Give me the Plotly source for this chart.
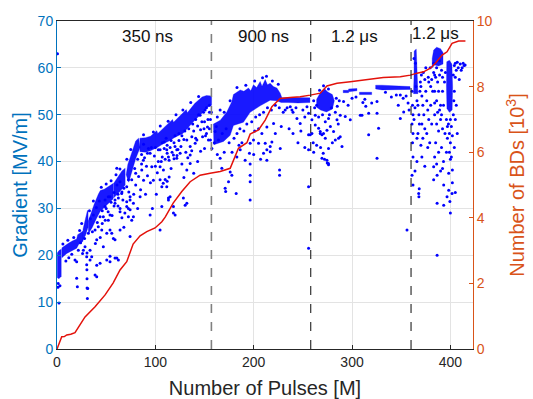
import plotly.graph_objects as go

# ---------------- data ----------------
# cumulative number of breakdowns (x: pulses [M], y: BDs [10^3])
bd_pulses = [0, 1.3, 4.8, 7.5, 9.9, 14, 18.3, 28.5, 38.7, 48.9, 57, 64.1, 70.9, 77.4, 84.5, 91.3,
             99.7, 106.6, 110, 118.1, 126.9, 135.4, 145.5, 155.7, 165.9, 176.1, 184.5, 193.1,
             196.4, 204.9, 211.7, 218.5, 226.9, 237.1, 247.3, 257.5, 267.7, 274.5, 284.7,
             298.2, 315.2, 331.8, 349.1, 359.3, 366.1, 372.8, 379.6, 384.7, 391.6, 396.6,
             401.7, 408.4, 415.3]
bd_count = [0, 0.12, 0.375, 0.38, 0.43, 0.45, 0.5, 0.98, 1.29, 1.65, 2.01, 2.41, 2.66, 3.2, 3.45,
            3.58, 3.69, 3.88, 4.02, 4.45, 4.80, 5.10, 5.30, 5.36, 5.41, 5.51, 6.12, 6.29,
            6.55, 6.68, 6.98, 7.39, 7.64, 7.67, 7.69, 7.74, 7.80, 8.02, 8.10,
            8.15, 8.22, 8.28, 8.30, 8.35, 8.41, 8.45, 8.56, 8.71, 8.96, 9.06,
            9.32, 9.39, 9.39]

# dense gradient bands (outline vertices, x: pulses [M], y: gradient [MV/m])
band_start = [(0.3, 15.2), (0.3, 20.5), (2, 21.0), (4.3, 21.3), (4.3, 15.5), (2, 15.0)]
band_350_a = [(5, 21.6), (8, 22.1), (12, 22.6), (16, 23.1), (20, 23.5), (21, 24.4), (24, 24.8),
              (26.5, 25.2), (26.5, 23.0), (22, 22.3), (20, 21.5), (15, 21.0), (10, 20.4), (5, 19.5)]
band_350_b = [(26.5, 25.6), (29, 27.8), (31, 29.6), (31.6, 29.3), (31.6, 26.0), (29, 24.3),
              (26.5, 23.3)]
band_350_c = [(31.8, 27.3), (35, 29.3), (38, 31.0), (42, 33.0), (44, 33.8), (48, 34.1),
              (52, 34.6), (57, 35.3), (57, 32.0), (52, 31.0), (48, 30.2), (44, 29.4), (40, 27.8),
              (36, 26.0), (32, 24.6)]
band_350_d = [(57.5, 35.3), (62, 36.8), (66, 38.0), (69.3, 38.6), (69.3, 35.0), (64, 33.6),
              (57.5, 32.2)]
band_350_e = [(70.3, 37.2), (72, 39.4), (76, 41.9), (80, 44.4), (83, 45.0), (84.5, 43.0),
              (80, 40.6), (76, 38.0), (73, 35.6)]
band_350_f = [(84.3, 45.0), (90, 45.1), (95, 45.4), (101.5, 46.6), (102.5, 46.0), (110, 47.6),
              (117.5, 49.0), (118.5, 48.4), (125, 49.8), (131.5, 51.1), (132.5, 50.4),
              (140, 52.4), (147.5, 53.8), (152, 54.1), (157.2, 54.0), (157.2, 52.0), (152, 51.5),
              (147, 50.2), (140, 48.8), (134, 47.4), (128, 46.0), (120, 45.2), (114, 44.4),
              (108, 43.8), (102, 43.0), (95, 42.3), (90, 42.0), (84.3, 42.1)]
band_900 = [(159, 48.0), (166, 48.8), (172.7, 50.6), (177.8, 52.8), (179.4, 54.3), (186.3, 55.3),
            (190, 55.0), (194.7, 55.7), (197, 55.1), (199.8, 56.4), (203, 55.8), (206.6, 57.1),
            (208.5, 56.1), (211.7, 57.5), (214, 56.4), (216.8, 56.7), (220, 56.0),
            (223.6, 55.7), (227, 54.6), (228.7, 53.6), (240, 53.7), (250, 53.7),
            (257.2, 53.6), (257.2, 52.6), (245, 52.5), (235, 52.6), (228, 52.6), (223, 53.0),
            (216.8, 53.1), (206.6, 51.9), (196.4, 50.5), (189.6, 48.4), (179.4, 47.7),
            (176.1, 45.6), (169.3, 44.3), (159.5, 43.6)]
band_12_a = [(264, 53.3), (268, 54.8), (272, 55.6), (275, 54.9), (280, 54.3), (282, 53.0),
             (280, 51.2), (274, 50.6), (268, 51.0), (264, 51.6)]
band_12_b = [(291, 54.7), (291, 55.2), (296.5, 55.2), (296.5, 55.5), (305, 55.6), (305, 55.1),
             (296.5, 54.9), (296.5, 54.7)]
band_12_c = [(307.5, 54.3), (307.5, 54.8), (320, 54.8), (320, 54.3)]
band_12_d = [(324, 55.5), (324, 56.3), (330.5, 56.3), (359, 56.0), (359, 55.4), (330.5, 55.3)]
band_12_e = [(363, 58), (363.2, 63.6), (365.3, 64.0), (366, 59.5), (367, 56.5), (367, 54.5),
             (362.5, 54.5), (362.5, 57)]
band_12_f = [(381.5, 62), (383, 63.8), (386, 64.4), (390, 64.1), (392.5, 63.3), (392.5, 60.8),
             (388, 60.4), (384, 60.6), (381.5, 60)]
band_12_g = [(396.3, 61.3), (399, 61.6), (401.5, 60.8), (402.3, 56), (401.8, 51), (399, 50.5),
             (396.5, 51.3), (396, 56)]

# individual gradient points
dots_350ns = [
    (0.5, 63.0), (2, 9.8), (1.3, 14), (1, 13.2), (3, 13.5),
    (18.3, 19), (20, 18.6), (20, 15.1), (20.7, 13.3), (21.7, 21.1), (25.1, 26.8), (26.8, 21.1),
    (28.5, 21.8), (30.2, 19.7), (30.5, 20.5), (30.2, 18), (30.4, 16.9), (30.5, 15), (30.6, 13),
    (30.9, 10.8), (31.2, 12.9), (31.9, 24.7), (33.6, 21.1), (33.6, 19), (35.3, 19.7),
    (38.7, 25.4), (38.7, 15.8), (40.4, 23.3), (40.4, 17.9), (40.4, 15.4), (42, 26.1),
    (43.8, 28.2), (43.8, 18.3), (45.5, 25.4), (47.1, 28.2), (47.1, 21.8), (48.9, 30.4),
    (48.9, 31.8), (50.6, 24.7), (50.6, 19), (52.2, 27.5), (52.2, 32.5), (53.9, 28.6),
    (53.9, 25.4), (53.9, 18.6), (53.9, 19.8), (55.7, 24.7), (57.3, 23.6), (59, 31.8),
    (59, 31.1), (59, 23.3), (59, 19.4), (60.8, 19.4), (62.4, 32.2), (62.4, 19), (64.1, 29.3),
    (64.1, 30), (64.1, 25.4), (65.8, 33.2), (70.9, 31.4), (70.9, 30.4), (70.9, 34.6),
    (72.6, 30), (72.6, 28.2), (74.3, 31.8), (74.3, 24), (76, 27.5), (76, 36.1), (77.7, 31.1),
    (84.5, 32.5), (94.7, 28.6), (104.8, 25.4), (106.6, 30.4), (113.3, 32.2), (118.4, 30.4),
    (120.1, 28.6), (128.5, 32.2), (130.3, 30.7),
    (53.9, 32.5), (60.8, 38.6), (64.1, 35.7), (72.6, 36.1), (74.3, 32.5), (74.3, 29.7),
    (77.7, 28.2), (85, 34), (87.8, 40.3), (86.2, 38.2), (94.7, 41.8), (96.4, 38.9),
    (104.8, 42.5), (104.8, 38.9), (104.8, 36.1), (108.2, 38.2), (106.6, 34.6), (111.6, 42.5),
    (113.3, 41), (118.4, 41.4), (121.8, 42.5), (121.8, 40.7), (125.2, 41.8), (115, 32.5),
    (111.6, 34.6), (113.3, 31.8), (118.4, 29), (132, 31.1), (132, 38.2), (135.4, 39.6),
    (135.4, 41.4), (142.2, 44.6), (140.5, 43.9), (147.3, 48.5), (150.6, 51), (145.5, 49.9),
    (132, 44.6), (137.1, 45.3), (135.4, 43.2),
    (107, 41), (109, 42.8), (110, 40.5), (112, 41.8), (114, 40.3), (115, 43), (117, 42),
    (119, 40.6), (120, 43.2), (122, 41.3), (123, 42.6), (108, 35.4), (110, 36.2), (112, 35.8),
    (114, 36.7),
    (36, 25), (41, 27), (46, 29.5), (50, 30), (55, 31.3), (58, 30.5), (62, 33), (66, 33.5),
    (68, 34.3), (79, 38.5), (82, 40.5), (86, 41.5), (88, 43.7), (92, 41.8), (96, 43), (100, 43),
    (103, 42.5), (107, 44), (111, 45), (116, 44.5), (120, 45.5), (124, 46), (127, 45.5),
    (130, 46.5), (134, 47), (138, 48), (141, 49), (144, 50), (149, 50.5), (152, 51.5),
    (155, 52), (156, 49), (155, 47), (154, 44.6), (152, 46),
    (66, 28), (68, 26), (80, 35), (82, 30), (88, 36), (90, 33), (92, 37), (98, 36), (100, 39),
    (101, 33), (97, 30), (103, 40),
    (149.5, 47), (151, 45.5), (153.5, 49), (155, 50.5), (156, 44.6),
    (6, 22.4), (11, 23.2), (17, 23.8), (23, 25.3), (33, 29.5), (37, 31.6), (45, 34.5),
    (50, 35.2), (55, 35.9), (60, 37.2), (64, 38.4), (71, 40.5), (75, 42.6), (88, 45.7),
    (98, 46.3), (105, 47.6), (113, 48.6), (121, 50), (128, 51), (136, 52.6), (144, 53.9),
    (62, 30.5), (67, 31.8), (69, 29), (73, 33.5), (78, 33), (80, 37.5), (83, 36.8), (86, 39.5),
    (89, 40.8), (91, 39), (93, 42.8), (95, 35.5), (99, 41.2), (102, 37.6), (106, 40),
    (109, 44.2), (112, 43.5), (116, 38.5), (119, 44), (124, 44.5), (126, 43.2), (129, 44.7),
    (131, 42), (133, 40.8), (137, 42.3), (139, 46.5), (141, 45), (143, 47.6), (146, 46.8),
    (148, 45.3), (150, 48.5), (153, 47.4), (157, 50.5), (127, 39.5), (129, 36.6), (139, 37.5),
    (143, 40), (146, 42.2), (150, 42.8), (40, 30.2), (43, 31.6), (46, 26.8), (49, 27.5),
    (52, 29.3), (56, 28.5), (58, 33.4), (61, 35), (34, 27.8), (37, 28.6), (39, 22.5),
    (44, 23.8), (15, 20.2), (12, 19.5), (9, 18.8), (24, 22.7), (26, 20.4), (28, 23.6)]
dots_900ns = [
    (157.5, 42.8), (160.8, 46.4), (164.2, 44.6), (167.6, 38.6), (171, 34.3), (171.5, 33.6),
    (174.4, 35.7), (176.1, 37.8), (177.8, 37.1), (182.2, 33.2), (191.3, 40.3), (195.7, 41.8),
    (196.4, 37.1), (196.4, 31.8), (196.4, 35.7), (196.4, 43.9), (196.4, 39.5), (199.8, 44.6),
    (204.9, 43.9), (208.3, 46), (211.7, 43.9), (213.4, 42.5), (216.8, 42.1), (218.5, 44.2),
    (213.4, 47.4), (220.2, 48.1), (226.3, 38.2), (226.3, 37.1), (237.2, 51.7), (238.9, 51),
    (244, 49.2), (247.3, 48.1), (254.2, 51.7), (257.5, 45.7), (255.8, 34.6), (255.8, 21.5),
    (255.8, 50.3), (255.8, 45.7), (255.8, 42.5), (165.9, 51), (232, 51), (165.9, 40.7),
    (182.9, 41), (186.3, 42.5), (213.4, 40.3), (210, 41.8), (216.8, 43.2), (227, 42.8),
    (162, 47.5), (168, 46), (172, 47), (175, 44), (180, 45), (183, 46), (186, 47), (190, 46.5),
    (193, 48), (198, 48.5), (202, 49.5), (206, 50), (210, 50.5), (214, 51.5), (218, 51),
    (222, 52), (226, 51.5), (230, 50.5), (234, 51.5), (240, 50.5), (243, 51.5), (250, 51),
    (252, 49.5), (248, 46.5), (236, 47), (228, 47.5), (222, 46), (205, 47), (201, 46.5),
    (188, 44), (185, 43.5), (178, 42), (170, 42), (163, 41.5), (160, 44), (200, 41.5),
    (207, 40.5), (240, 46), (245, 44), (252, 43),
    (163, 49.5), (170, 50.5), (176, 53), (183, 55.8), (192, 56.3), (201, 57.2), (209, 57.9),
    (213, 58.2), (219, 57.2), (225, 56.5)]
dots_12us_a = [
    (259.2, 48.9), (259.2, 46), (262.6, 49.9), (262.6, 47.8), (266, 47.1), (267.7, 46.4),
    (269.4, 45.7), (271, 46), (272.8, 45), (274.5, 46.7), (272.8, 48.5), (276.1, 49.2),
    (281.2, 46.4), (283, 44.6), (286.3, 45), (289.8, 43.2), (276.1, 42.8), (269.4, 40.7),
    (274.5, 40.3), (276.1, 39.3), (270.7, 41.8), (272, 40.5), (274.8, 39.7), (276, 39.6),
    (267.7, 46), (288, 45.3), (284.7, 48.9), (288, 49.9), (293.1, 49.6), (298.2, 48.9),
    (291.4, 52.8), (310.1, 49.9), (316.9, 50.3), (325.4, 50.3), (325.4, 52.8), (316.9, 45.7),
    (327, 47.1), (325.4, 40.7), (349.1, 49.2), (352.5, 50.6), (355.9, 25.4), (349.1, 54.2),
    (308.4, 49.9), (264, 52), (279, 51.5), (285, 51.8), (287, 53), (300, 53.5),
    (313, 53.3), (340, 53.8), (345, 54.2), (355, 54), (357, 52.5), (260.5, 44), (261, 42),
    (264, 43.5), (268, 43), (278, 47.5), (280, 44), (286, 48), (296, 52), (304, 53.8),
    (320, 52.5), (334, 54.8), (347, 52), (352, 53.5), (358, 51),
    (261, 53), (262, 51.5), (266, 49.5), (270, 50), (277, 50), (283, 50.5), (284, 53.5),
    (271, 56.2), (267, 55.2), (276, 55.5), (311, 52.6), (314, 51.8)]
dots_12us_b = [
    (361, 55), (361.5, 52), (362, 50), (361, 48), (362, 46), (361.5, 44), (362, 41), (361, 37.1),
    (362, 35), (367.8, 33.2), (368, 32.5), (368.3, 34.2), (367, 52), (368, 50), (368.5, 48),
    (367, 46), (369, 55), (369.5, 57), (366, 45), (364, 51.5), (363, 49),
    (370, 56), (371, 54), (372, 52), (373, 50), (371, 48), (374, 47), (372, 45), (375, 55),
    (376, 53), (377, 51), (378, 49), (376, 46), (379, 44), (380, 56), (380, 52), (381, 48),
    (374, 57.5), (378, 57), (370, 43.5), (377, 43),
    (383, 59), (385, 58), (387, 57), (389, 58.5), (391, 59.5), (384, 55), (386, 53), (388, 55),
    (390, 52), (392, 55), (384, 50), (386, 48), (388, 46.5), (390, 49), (392, 47), (383, 38.9),
    (383, 36.1), (386.5, 37.1), (393.2, 35), (386.5, 31.1), (393.2, 30.7), (386.5, 20),
    (388, 42), (385, 44), (391, 43), (393, 40), (390, 38),
    (398, 48), (399, 46), (400, 44), (399, 42), (400, 40.5), (398.3, 37.5), (398.3, 33.9),
    (401.7, 33.2), (400, 29), (396.6, 32.5), (405, 33.4), (402, 38.2), (397, 45), (401, 47.5),
    (404, 60.5), (406, 59.5), (408, 60), (410, 60.8), (412, 60), (414, 60.5), (405, 58),
    (409, 57.5), (404, 55), (406, 52), (405, 49), (407, 46), (404, 43),
    (363, 62), (364.5, 61), (365, 56), (366, 53), (370.5, 58.5), (372.5, 59), (375, 60),
    (377.5, 58), (379.5, 60), (381, 57.5), (382, 55), (384, 52.5), (387, 50.5), (389, 51),
    (391, 50), (393, 52), (394, 57), (395, 59), (392, 58), (389, 61.5), (386, 60),
    (384, 58.5), (383, 61), (396, 49), (397, 47.5), (400, 49), (402, 45.5), (403, 50),
    (403.5, 53), (403, 58.5), (405, 61), (407, 61.2), (411, 59.5), (413, 61), (415, 60.6),
    (394.5, 46), (396, 42), (401, 41), (402, 35.5), (399.5, 31.5), (384, 41), (386, 39.5),
    (392, 38.5), (371, 41), (374, 39), (366, 40), (364, 38)]

# pulse-length phases
phase_edges = [157, 258, 360]
phase_labels = ["350 ns", "900 ns", "1.2 μs", "1.2 μs"]
phase_label_x = [91.6, 209.7, 302, 384.4]
phase_label_y = [66.6, 66.6, 66.6, 67.3]

# ---------------- figure ----------------
BLUE_AX = "#0072BD"
ORANGE = "#D95319"
DOT = "#0000FF"
GRID = "#e3e3e3"
DARK = "#262626"
FONT = "Liberation Sans, Arial, sans-serif"

fig = go.Figure()

bands = [band_start, band_350_a, band_350_b, band_350_c, band_350_d, band_350_e, band_350_f,
         band_900, band_12_a, band_12_b, band_12_c, band_12_d, band_12_e, band_12_f, band_12_g]
for b in bands:
    fig.add_trace(go.Scatter(
        x=[p[0] for p in b] + [b[0][0]], y=[p[1] for p in b] + [b[0][1]],
        mode="lines", fill="toself", fillcolor="rgba(0,0,255,0.9)",
        line=dict(color="rgba(0,0,255,0.6)", width=0.5), hoverinfo="skip", showlegend=False))

all_dots = dots_350ns + dots_900ns + dots_12us_a + dots_12us_b
fig.add_trace(go.Scatter(
    x=[p[0] for p in all_dots], y=[p[1] for p in all_dots], mode="markers",
    marker=dict(color=DOT, size=3), showlegend=False))

fig.add_trace(go.Scatter(
    x=bd_pulses, y=bd_count, mode="lines", yaxis="y2",
    line=dict(color="#E3120B", width=1.5), showlegend=False))

for i, xe in enumerate(phase_edges):
    fig.add_shape(type="line", xref="x", yref="y", x0=xe, x1=xe, y0=0, y1=70,
                  line=dict(color="#808080" if i == 0 else "#202020",
                            width=1.6 if i == 0 else 1.1, dash="dash"))

for t, xx, yy in zip(phase_labels, phase_label_x, phase_label_y):
    fig.add_annotation(x=xx, y=yy, xref="x", yref="y", text=t, showarrow=False,
                       font=dict(family=FONT, size=17, color="#111111"))

fig.update_layout(
    width=533, height=399,
    margin=dict(l=57, r=60, t=21, b=50, autoexpand=False),
    paper_bgcolor="white", plot_bgcolor="white",
    font=dict(family=FONT, size=14, color=DARK),
    xaxis=dict(range=[0, 423], tickvals=[0, 100, 200, 300, 400], showgrid=True,
               gridcolor=GRID, zeroline=False, showline=True, linecolor=DARK, linewidth=1,
               mirror=True, ticks="inside", ticklen=4, tickcolor=DARK, automargin=False,
               tickfont=dict(size=14, color=DARK),
               title=dict(text="Number of Pulses [M]", font=dict(size=20, color=DARK),
                          standoff=15)),
    yaxis=dict(range=[0, 70], dtick=10, showgrid=True, gridcolor=GRID, zeroline=False,
               showline=True, linecolor=BLUE_AX, linewidth=1, ticks="inside", ticklen=4,
               tickcolor=BLUE_AX, tickfont=dict(size=14, color=BLUE_AX), automargin=False,
               title=dict(text="Gradient [MV/m]", font=dict(size=20, color=BLUE_AX),
                          standoff=4)),
    yaxis2=dict(range=[0, 10], dtick=2, overlaying="y", side="right", showgrid=False,
                zeroline=False, showline=True, linecolor=ORANGE, linewidth=1,
                ticks="inside", ticklen=4, tickcolor=ORANGE, automargin=False,
                tickfont=dict(size=14, color=ORANGE),
                title=dict(text="Number of BDs [10<sup>3</sup>]",
                           font=dict(size=20, color=ORANGE), standoff=18)),
)

fig.write_html("out.html")
